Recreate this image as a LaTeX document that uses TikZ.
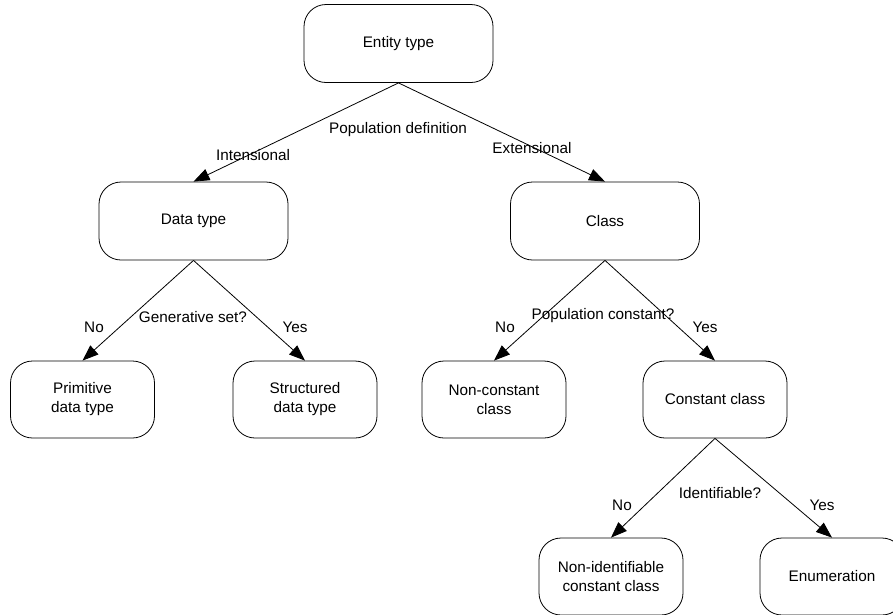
\documentclass[tikz,border=0pt]{standalone}
\usepackage{fontspec}
\setmainfont{Liberation Sans}
\usetikzlibrary{arrows.meta}
\begin{document}
\begin{tikzpicture}[x=1pt,y=-1pt,
  font=\fontsize{15.3}{19}\selectfont,
  bigbox/.style={draw,line width=0.8pt,rounded corners=22pt,minimum width=189pt,minimum height=78pt,align=center},
  smallbox/.style={draw,line width=0.8pt,rounded corners=22pt,minimum width=144pt,minimum height=77pt,align=center},
  arr/.style={line width=0.8pt,-{Triangle[length=16pt,width=12pt]}},
  lbl/.style={inner sep=0pt}]
\useasboundingbox (0,0) rectangle (893,614);
\node [bigbox] (entity) at (398.5,43.5) {Entity type};
\node [bigbox] (datatype) at (193.5,221) {Data type};
\node [bigbox] (class) at (605,221) {Class};
\node [smallbox] (primitive) at (82.5,399.5) {Primitive\\data type};
\node [smallbox] (structured) at (305,399.5) {Structured\\data type};
\node [smallbox] (nonconst) at (494,399.5) {Non-constant\\class};
\node [smallbox] (constcl) at (715,399.5) {Constant class};
\node [smallbox] (nonident) at (611,576.5) {Non-identifiable\\constant class};
\node [smallbox] (enumer) at (832,576.5) {Enumeration};
%
\draw [arr] (entity.south) to (datatype.north);
\draw [arr] (entity.south) to (class.north);
\draw [arr] (datatype.south) to (primitive.north);
\draw [arr] (datatype.south) to (structured.north);
\draw [arr] (class.south) to (nonconst.north);
\draw [arr] (class.south) to (constcl.north);
\draw [arr] (constcl.south) to (nonident.north);
\draw [arr] (constcl.south) to (enumer.north);
%
\node [lbl] (popdef) at (398,130) {Population definition};
\node [lbl] (intens) at (253,155) {Intensional};
\node [lbl] (extens) at (532,148) {Extensional};
\node [lbl] (gennot) at (94,327) {No};
\node [lbl] (genset) at (193,317) {Generative set?};
\node [lbl] (genyes) at (295,327) {Yes};
\node [lbl] (popnot) at (505,327) {No};
\node [lbl] (popcon) at (603,316) {Population constant?};
\node [lbl] (popyes) at (705,327) {Yes};
\node [lbl] (idnot) at (622,505) {No};
\node [lbl] (ident) at (720,493) {Identifiable?};
\node [lbl] (idyes) at (822,505) {Yes};
\end{tikzpicture}
\end{document}
